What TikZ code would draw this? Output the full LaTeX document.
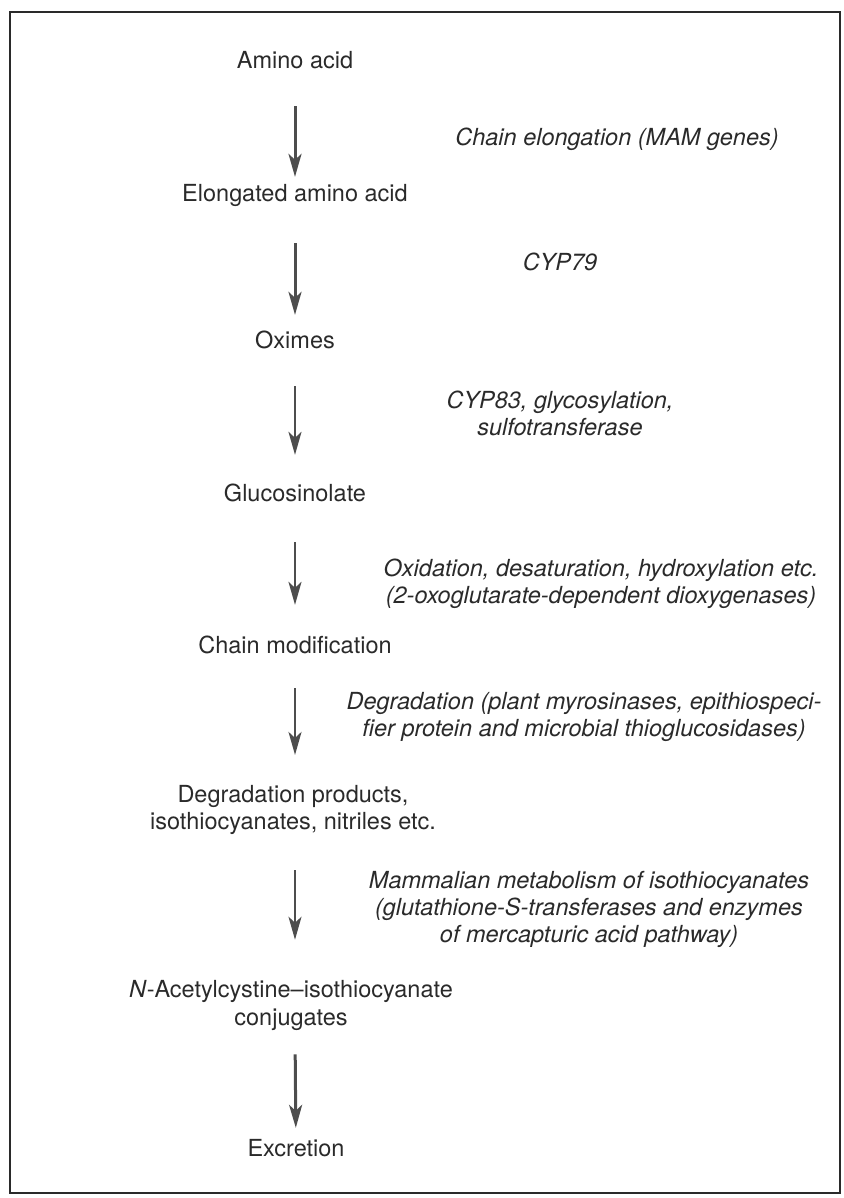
\documentclass[tikz,border=0pt]{standalone}
\usepackage{fontspec}
\setmainfont{TeX Gyre Heros}
\usetikzlibrary{arrows.meta}
\definecolor{inkgray}{HTML}{2A2A2A}
\definecolor{arrowgray}{HTML}{4D4D4D}

\begin{document}
\begin{tikzpicture}[
  x=1pt, y=-1pt,
  font=\fontsize{23.5}{27.5}\selectfont,
  stage/.style={text=inkgray, inner sep=0pt, text height=17.6pt, text depth=5.9pt},
  stagetwo/.style={text=inkgray, inner sep=0pt, align=center},
  enzyme/.style={text=inkgray, inner sep=0pt, align=center, font=\fontsize{23.5}{27}\selectfont\itshape},
  arr/.style={-{Stealth[length=23pt, width=13pt, inset=6pt]}, line width=2.2pt, draw=arrowgray},
  arrbold/.style={arr, line width=3pt}
]
\useasboundingbox (0,0) rectangle (843,1198);
\draw[line width=1.4pt, draw=inkgray] (10,12) rectangle (840,1193);

% pathway steps
\node[stage] (amino) at (295,62.5) {Amino acid};
\node[stage] (elong) at (295,195.5) {Elongated amino acid};
\node[stage] (oxime) at (295,342.5) {Oximes};
\node[stage] (gluco) at (295,495.5) {Glucosinolate};
\node[stage] (chmod) at (295,647.5) {Chain modification};
\node[stagetwo] (degr) at (293,810) {Degradation products,\\isothiocyanates, nitriles etc.};
\node[stagetwo] (nacc) at (291,1005.5) {\textit{N}-Acetylcystine--isothiocyanate\\conjugates};
\node[stage] (excr) at (296,1150.5) {Excretion};

% enzymes / processes
\node[enzyme] (e1) at (617,139.5) {Chain elongation (MAM genes)};
\node[enzyme] (e2) at (560,261.5) {CYP79};
\node[enzyme] (e3) at (560,413.5) {CYP83, glycosylation,\\sulfotransferase};
\node[enzyme] (e4) at (601,584) {Oxidation, desaturation, hydroxylation etc.\\(2-oxoglutarate-dependent dioxygenases)};
\node[enzyme] (e5) at (584,716.5) {Degradation (plant myrosinases, epithiospeci-\\fier protein and microbial thioglucosidases)};
\node[enzyme] (e6) at (589,909) {Mammalian metabolism of isothiocyanates\\(glutathione-S-transferases and enzymes\\of mercapturic acid pathway)};

\draw[arrbold, shorten <=31.7pt, shorten >=6.7pt] (amino) -- (elong);
\draw[arrbold, shorten <=35.7pt, shorten >=15.7pt] (elong) -- (oxime);
\draw[arr, shorten <=31.7pt, shorten >=28.7pt] (oxime) -- (gluco);
\draw[arr, shorten <=34.7pt, shorten >=30.7pt] (gluco) -- (chmod);
\draw[arr, shorten <=28.7pt, shorten >=30pt] (chmod) -- (chmod |- degr.north);
\draw[arr, shorten <=35pt, shorten >=40.7pt] (chmod |- degr.south) -- (chmod |- nacc.north);
\draw[arrbold, shorten <=23.7pt, shorten >=10.7pt] (chmod |- nacc.south) -- (excr);
\end{tikzpicture}
\end{document}
